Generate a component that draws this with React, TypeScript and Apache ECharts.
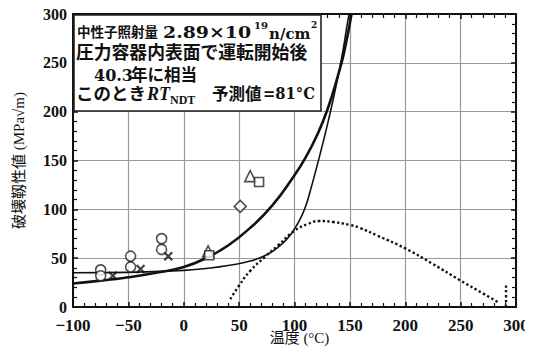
import React, { useEffect, useRef } from "react";
import * as echarts from "echarts";

// Curves (temperature °C, fracture toughness MPa√m)
const thickT = [-100, -75, -50, -25, 0, 20, 40, 60, 80, 100, 110, 120, 130, 140, 145, 151.5];
const thickK = [24, 27, 30.5, 35, 41, 50, 63, 81, 104, 135, 153, 175, 203, 240, 262, 300];
const thinT = [-100, -50, 0, 20, 40, 60, 74, 85, 95, 100, 105, 110, 115, 120, 125, 130, 135, 140, 144, 148, 149.5];
const thinK = [35, 35.5, 37.5, 39.5, 42.5, 47, 53, 61, 72, 80, 90, 103, 122, 143, 165, 188, 213, 240, 264, 292, 300];
const dotT = [42, 50, 60, 74, 85, 100, 112, 122, 135, 150, 159, 175, 200, 225, 250, 270, 285];
const dotK = [8, 22, 37, 52, 63, 78, 85, 88, 87, 84, 81, 73, 60, 44, 27, 14, 4];
const vDotT = [291, 291];
const vDotK = [0, 22];

// Measured points
const circleT = [-75, -75, -48, -48, -20, -20];
const circleK = [38, 32, 52, 41, 70, 59];
const crossT = [-64, -39, -14];
const crossK = [32, 39, 52];
const triangleT = [60, 22];
const triangleK = [134, 57];
const squareT = [68, 23];
const squareK = [128, 53];
const diamondT = [51];
const diamondK = [103];

const xName = "温度 (°C)";
const yName = "破壊靱性値 (MPa√m)";

const zip = (a: number[], b: number[]) => a.map((v, i) => [v, b[i]]);

const SERIF = "'Liberation Serif', 'DejaVu Serif', serif";
const WSERIF = "'DejaVu Serif', 'Liberation Serif', serif";
const CJK = "'Liberation Serif', 'Noto Sans CJK JP', serif";

export default function App() {
  const ref = useRef<HTMLDivElement>(null);
  useEffect(() => {
    if (!ref.current) return;
    const chart = echarts.init(ref.current, null, { renderer: "svg" });
    const tickLabel = {
      fontFamily: SERIF,
      fontWeight: "bold" as const,
      fontSize: 17,
      color: "#111",
    };
    const baseAxis = {
      axisLine: { show: true, onZero: false, lineStyle: { color: "#111", width: 2 } },
      axisTick: { show: true, inside: true, length: 5, lineStyle: { color: "#111", width: 1.5 } },
      minorTick: { show: true, splitNumber: 5, length: 4, lineStyle: { color: "#111", width: 1.2 } },
    };
    const lineSeries = (data: number[][], width: number, type: string = "solid") => ({
      type: "line",
      data,
      showSymbol: false,
      symbol: "none",
      smooth: 0.5,
      lineStyle: { color: "#111", width, type },
      z: 3,
      silent: true,
    });
    const markerSeries = (data: number[][], symbol: string, size: number) => ({
      type: "scatter",
      data,
      symbol,
      symbolSize: size,
      itemStyle: { color: "#fff", borderColor: "#222", borderWidth: 1.6 },
      z: 4,
    });
    const txt = (
      text: string,
      x: number,
      y: number,
      fontSize: number,
      fontFamily: string,
      extra: Record<string, unknown> = {},
      scaleX = 1
    ) => ({
      type: "text",
      z: 11,
      x,
      y,
      scaleX,
      style: {
        text,
        fontFamily,
        fontSize,
        fontWeight: "bold",
        fill: "#111",
        verticalAlign: "middle",
        ...extra,
      },
    });
    chart.setOption({
      animation: false,
      backgroundColor: "#fff",
      grid: { left: 73, right: 17, top: 14, bottom: 48, outerBoundsMode: "none", containLabel: false },
      xAxis: [
        {
          ...baseAxis,
          type: "value",
          min: -100,
          max: 300,
          interval: 50,
          name: xName,
          nameLocation: "middle",
          nameGap: 23,
          nameMoveOverlap: false,
          nameTextStyle: { fontFamily: CJK, fontSize: 15, color: "#111", padding: [0, 0, 0, 10] },
          axisLabel: {
            ...tickLabel,
            margin: 10,
            formatter: (v: number) => String(v).replace("-", "−"),
          },
          splitLine: { show: true, lineStyle: { color: "#999", width: 1.2 } },
        },
        {
          ...baseAxis,
          type: "value",
          position: "top",
          min: -100,
          max: 300,
          interval: 50,
          axisLabel: { show: false },
          splitLine: { show: false },
        },
      ],
      yAxis: [
        {
          ...baseAxis,
          type: "value",
          min: 0,
          max: 300,
          interval: 50,
          name: yName,
          nameLocation: "middle",
          nameRotate: 90,
          nameGap: 47,
          nameMoveOverlap: false,
          nameTextStyle: { fontFamily: CJK, fontSize: 15, color: "#111" },
          axisLabel: { ...tickLabel, fontSize: 16, margin: 6 },
          splitLine: { show: true, lineStyle: { color: "#999", width: 1.2 } },
        },
        {
          ...baseAxis,
          type: "value",
          position: "right",
          min: 0,
          max: 300,
          interval: 50,
          axisLabel: { show: false },
          splitLine: { show: false },
        },
      ],
      series: [
        lineSeries(zip(thickT, thickK), 2.6),
        lineSeries(zip(thinT, thinK), 1.6),
        lineSeries(zip(dotT, dotK), 2.4, "dotted"),
        lineSeries(zip(vDotT, vDotK), 2.4, "dotted"),
        markerSeries(zip(circleT, circleK), "circle", 10),
        {
          type: "scatter",
          data: zip(crossT, crossK),
          symbol: "path://M0,0L10,10M10,0L0,10",
          symbolSize: 8,
          itemStyle: { color: "none", borderColor: "#111", borderWidth: 2.2 },
          z: 4,
        },
        markerSeries(zip(triangleT, triangleK), "triangle", 11),
        markerSeries(zip(squareT, squareK), "rect", 9),
        markerSeries(zip(diamondT, diamondK), "diamond", 12),
      ],
      graphic: [
        {
          type: "rect",
          z: 10,
          shape: { x: 74, y: 15, width: 247, height: 96 },
          style: { fill: "#fff", stroke: "#222", lineWidth: 1.6 },
        },
        // line 1
        txt("中性子照射量", 77, 32, 13.5, CJK),
        txt("2.89×10", 163, 33, 16, WSERIF, {}, 1.18),
        txt("19", 254, 25, 10, WSERIF),
        txt("n/cm", 269, 34, 15, WSERIF),
        txt("2", 311, 25, 9, WSERIF),
        // line 2
        txt("圧力容器内表面で運転開始後", 76, 53, 17.8, CJK),
        // line 3
        txt("40.3", 94, 75, 16, WSERIF),
        txt("年に相当", 131, 75, 16.5, CJK),
        // line 4
        txt("このとき", 76, 94, 17.5, CJK),
        txt("RT", 147, 94, 18, SERIF, { fontStyle: "italic" }),
        txt("NDT", 170, 100, 12, SERIF),
        txt("予測値", 212, 94, 16.5, CJK),
        txt("=81°C", 263, 94, 16, WSERIF, {}, 0.92),
      ],
    });
    return () => chart.dispose();
  }, []);
  return <div ref={ref} style={{ width: 533, height: 355, margin: -8 }} />;
}
